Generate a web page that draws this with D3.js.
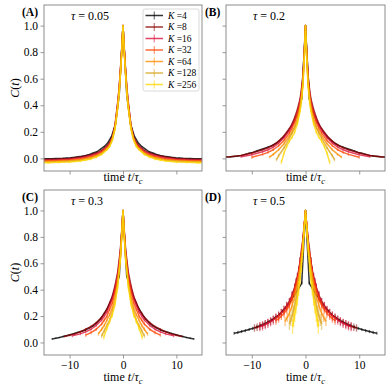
<!DOCTYPE html>
<html>
<head>
<meta charset="utf-8">
<script src="https://cdn.jsdelivr.net/npm/d3@7"></script>
<style>
  body { margin: 0; background: #fff; }
  svg { display: block; }
  svg text { font-family: "Liberation Serif", "Times New Roman", Times, serif; fill: #000; }
</style>
</head>
<body>
<svg width="390" height="390"></svg>
<script>
var Ks = [4, 8, 16, 32, 64, 128, 256];
var colors = ["#000000", "#8b0000", "#dc143c", "#ff4500", "#ff8c00", "#daa520", "#ffd700"];
var taus = ["0.05", "0.2", "0.3", "0.5"];
var panelNames = ["(A)", "(B)", "(C)", "(D)"];
var xTicks = [-10, 0, 10];
var yTicks = [0, 0.2, 0.4, 0.6, 0.8, 1.0];

// K=4 is sampled coarser than the others
var tBlack = [0, 0.7, 1.4, 2.1, 2.8, 3.5, 4.2, 4.9, 5.6, 6.3, 7, 7.7, 8.4, 9.1, 9.8, 10.5, 11.2, 11.9, 12.6, 13.3, 14, 14.7, 15.4];
var blackA = [1, 0.48, 0.26, 0.17, 0.12, 0.09, 0.07, 0.05, 0.04, 0.03, 0.022, 0.016, 0.012, 0.008, 0.005, 0.003, 0.001, 0, -0.001, -0.002, -0.003, -0.003, -0.003];
var blackB = [1, 0.45, 0.35, 0.28, 0.23, 0.19, 0.155, 0.13, 0.11, 0.095, 0.085, 0.075, 0.065, 0.055, 0.045, 0.038, 0.03, 0.022, 0.018, 0.015, 0.012, 0.01, 0.008];
var blackC = [1, 0.5, 0.42, 0.33, 0.27, 0.22, 0.18, 0.15, 0.125, 0.11, 0.095, 0.085, 0.077, 0.068, 0.06, 0.052, 0.045, 0.038, 0.032, 0.026];
var blackD = [1, 0.45, 0.4, 0.36, 0.31, 0.27, 0.24, 0.21, 0.19, 0.17, 0.155, 0.14, 0.128, 0.117, 0.107, 0.098, 0.09, 0.083, 0.076, 0.07];

// K = 8 ... 256, half curves [t, C(t)] for t >= 0 (curves are symmetric)
var curvesA = [
  [[0,1],[0.25,0.82],[0.5,0.66],[0.75,0.52],[1,0.42],[1.5,0.25],[2,0.16],[2.5,0.12],[3,0.095],[4,0.06],[5,0.04],[6,0.028],[7,0.018],[8,0.01],[10,0],[12,-0.005],[14,-0.008],[16,-0.01]],
  [[0,1],[0.25,0.81],[0.5,0.65],[0.75,0.51],[1,0.41],[1.5,0.24],[2,0.155],[2.5,0.11],[3,0.088],[4,0.052],[5,0.033],[6,0.02],[7,0.01],[8,0.003],[10,-0.006],[12,-0.01],[14,-0.012],[16,-0.013]],
  [[0,1],[0.25,0.8],[0.5,0.64],[0.75,0.5],[1,0.4],[1.5,0.235],[2,0.15],[2.5,0.105],[3,0.08],[4,0.045],[5,0.025],[6,0.012],[7,0.003],[8,-0.004],[10,-0.012],[12,-0.016],[14,-0.018],[16,-0.018]],
  [[0,1],[0.25,0.8],[0.5,0.63],[0.75,0.49],[1,0.39],[1.5,0.23],[2,0.145],[2.5,0.1],[3,0.075],[4,0.04],[5,0.02],[6,0.006],[7,-0.003],[8,-0.01],[10,-0.018],[12,-0.022],[14,-0.024],[16,-0.024]],
  [[0,1],[0.25,0.79],[0.5,0.62],[0.75,0.48],[1,0.38],[1.5,0.225],[2,0.14],[2.5,0.095],[3,0.07],[4,0.035],[5,0.014],[6,0],[7,-0.008],[8,-0.015],[10,-0.022],[12,-0.026],[14,-0.028],[16,-0.028]],
  [[0,1],[0.25,0.79],[0.5,0.62],[0.75,0.48],[1,0.38],[1.5,0.22],[2,0.135],[2.5,0.09],[3,0.065],[4,0.03],[5,0.01],[6,-0.004],[7,-0.012],[8,-0.02],[10,-0.027],[12,-0.03],[14,-0.032],[16,-0.032]]
];
var curvesB = [
  [[0,1],[0.25,0.78],[0.5,0.62],[0.75,0.52],[1,0.45],[1.5,0.37],[2,0.31],[2.5,0.26],[3,0.225],[4,0.17],[5,0.13],[6,0.1],[7,0.08],[8,0.065],[10,0.04],[12,0.022],[14,0.012],[16,0.006]],
  [[0,1],[0.25,0.77],[0.5,0.6],[0.75,0.5],[1,0.43],[1.5,0.35],[2,0.29],[2.5,0.245],[3,0.21],[4,0.155],[5,0.115],[6,0.085],[7,0.065],[8,0.05],[10,0.028],[12,0.012]],
  [[0,1],[0.25,0.76],[0.5,0.58],[0.75,0.48],[1,0.41],[1.5,0.33],[2,0.27],[2.5,0.225],[3,0.19],[4,0.135],[5,0.095],[6,0.065],[7,0.045],[8,0.03],[10,0.008]],
  [[0,1],[0.25,0.75],[0.5,0.56],[0.75,0.46],[1,0.39],[1.5,0.3],[2,0.24],[2.5,0.2],[3,0.17],[4,0.11],[5,0.065],[6,0.03],[6.7,0.01]],
  [[0,1],[0.25,0.74],[0.5,0.55],[0.75,0.45],[1,0.37],[1.5,0.28],[2,0.23],[2.5,0.19],[3,0.15],[4,0.08],[5,0.02],[5.4,-0.01]],
  [[0,1],[0.25,0.73],[0.5,0.54],[0.75,0.43],[1,0.36],[1.5,0.26],[2,0.2],[2.5,0.16],[3,0.13],[3.5,0.09],[4,0.04],[4.5,-0.03]]
];
var curvesC = [
  [[0,1],[0.25,0.84],[0.5,0.7],[1,0.53],[1.5,0.43],[2,0.35],[2.5,0.3],[3,0.25],[3.5,0.22],[4,0.19],[5,0.15],[6,0.12],[7,0.1],[8,0.08],[9,0.065],[10,0.055],[11,0.045]],
  [[0,1],[0.25,0.83],[0.5,0.68],[1,0.51],[1.5,0.41],[2,0.33],[2.5,0.28],[3,0.23],[3.5,0.2],[4,0.17],[5,0.13],[6,0.1],[7,0.08],[8,0.065],[9.5,0.05]],
  [[0,1],[0.25,0.82],[0.5,0.66],[1,0.49],[1.5,0.38],[2,0.3],[2.5,0.25],[3,0.2],[3.5,0.17],[4,0.14],[5,0.1],[6,0.075],[7,0.055]],
  [[0,1],[0.25,0.81],[0.5,0.64],[1,0.46],[1.5,0.34],[2,0.26],[2.5,0.21],[3,0.17],[3.5,0.13],[4,0.1],[4.6,0.065]],
  [[0,1],[0.25,0.8],[0.5,0.63],[1,0.44],[1.5,0.31],[2,0.23],[2.5,0.17],[3,0.13],[3.5,0.09],[4,0.05]],
  [[0,1],[0.25,0.8],[0.5,0.62],[1,0.42],[1.5,0.29],[2,0.21],[2.5,0.16],[3,0.11],[3.6,0.04]]
];
var curvesD = [
  [[0,1],[0.25,0.88],[0.5,0.78],[0.75,0.69],[1,0.62],[1.25,0.55],[1.5,0.5],[1.75,0.46],[2,0.42],[2.5,0.36],[3,0.31],[3.5,0.28],[4,0.25],[4.5,0.225],[5,0.205],[5.5,0.19],[6,0.175],[6.5,0.16],[7,0.15],[7.5,0.14],[8,0.13],[8.5,0.122],[9,0.115],[9.5,0.11]],
  [[0,1],[0.25,0.88],[0.5,0.77],[0.75,0.68],[1,0.61],[1.25,0.54],[1.5,0.49],[1.75,0.45],[2,0.41],[2.5,0.35],[3,0.3],[3.5,0.27],[4,0.24],[4.5,0.22],[5,0.2],[5.5,0.185],[6,0.17],[6.5,0.157],[7,0.145],[7.5,0.135],[8,0.125],[8.5,0.12]],
  [[0,1],[0.25,0.87],[0.5,0.76],[0.75,0.67],[1,0.59],[1.25,0.52],[1.5,0.47],[1.75,0.43],[2,0.39],[2.5,0.33],[3,0.28],[3.5,0.25],[4,0.22],[4.5,0.2],[5,0.18],[5.5,0.165]],
  [[0,1],[0.25,0.86],[0.5,0.74],[0.75,0.64],[1,0.56],[1.25,0.5],[1.5,0.44],[1.75,0.39],[2,0.35],[2.5,0.28],[3,0.22],[3.4,0.19],[3.8,0.16]],
  [[0,1],[0.25,0.85],[0.5,0.72],[0.75,0.61],[1,0.52],[1.25,0.45],[1.5,0.38],[1.75,0.33],[2,0.28],[2.25,0.24],[2.5,0.2],[2.75,0.17],[3,0.14]],
  [[0,1],[0.25,0.85],[0.5,0.71],[0.75,0.59],[1,0.49],[1.25,0.41],[1.5,0.33],[1.75,0.27],[2,0.21],[2.2,0.17],[2.4,0.12]]
];
// error bar half-heights, per K
var errA = [0.003, 0.004, 0.005, 0.006, 0.007, 0.008, 0.01];
var errB = [0.004, 0.006, 0.008, 0.01, 0.01, 0.012, 0.014];
var errC = [0.005, 0.008, 0.01, 0.012, 0.014, 0.016, 0.02];
var errD = [0.012, 0.028, 0.035, 0.03, 0.035, 0.045, 0.055];

var blacks = [blackA, blackB, blackC, blackD];
var curves = [curvesA, curvesB, curvesC, curvesD];
var errs = [errA, errB, errC, errD];

var serif = "'Liberation Serif', 'Times New Roman', Times, serif";
var svg = d3.select("svg");
var boxes = [
  {x0: 44, x1: 202, y0: 5, y1: 171},
  {x0: 226, x1: 385, y0: 5, y1: 171},
  {x0: 44, x1: 202, y0: 190, y1: 355},
  {x0: 226, x1: 385, y0: 190, y1: 355}
];
var frameColor = "#808080";

function mirror(half) {
  var left = half.slice(1).map(function(p) { return [-p[0], p[1]]; }).reverse();
  return left.concat(half);
}

boxes.forEach(function(b, pi) {
  var x = d3.scaleLinear().domain([-14.8, 14.8]).range([b.x0, b.x1]);
  var y = d3.scaleLinear().domain([-0.095, 1.155]).range([b.y1, b.y0]);
  var g = svg.append("g");

  svg.append("clipPath").attr("id", "clip" + pi)
    .append("rect").attr("x", b.x0).attr("y", b.y0)
    .attr("width", b.x1 - b.x0).attr("height", b.y1 - b.y0);

  var plot = g.append("g").attr("clip-path", "url(#clip" + pi + ")");

  var series = [];
  series.push(tBlack.slice(0, blacks[pi].length).map(function(t, i) { return [t, blacks[pi][i]]; }));
  curves[pi].forEach(function(c) { series.push(c); });

  var line = d3.line().x(function(d) { return x(d[0]); }).y(function(d) { return y(d[1]); });

  series.forEach(function(half, k) {
    var pts = mirror(half);
    var e = errs[pi][k];
    var s = plot.append("g");
    s.selectAll("line").data(pts.filter(function(p) { return p[0] !== 0; }))
      .enter().append("line")
      .attr("x1", function(d) { return x(d[0]); })
      .attr("x2", function(d) { return x(d[0]); })
      .attr("y1", function(d) { return y(d[1] - e); })
      .attr("y2", function(d) { return y(d[1] + e); })
      .attr("stroke", colors[k])
      .attr("stroke-opacity", 0.5)
      .attr("stroke-width", 1.3);
    s.append("path").datum(pts)
      .attr("d", line)
      .attr("fill", "none")
      .attr("stroke", colors[k])
      .attr("stroke-opacity", 0.8)
      .attr("stroke-width", 1.5)
      .attr("stroke-linejoin", "round");
  });

  // axes
  var ya = d3.axisLeft(y).tickValues(yTicks).tickSize(3.5).tickPadding(2.5)
    .tickFormat(pi % 2 === 0 ? d3.format(".1f") : "");
  var yg = g.append("g").attr("transform", "translate(" + b.x0 + ",0)").call(ya);
  var xa = d3.axisBottom(x).tickValues(xTicks).tickSize(3.5).tickPadding(2)
    .tickFormat(pi >= 2 ? d3.format("d") : "");
  var xg = g.append("g").attr("transform", "translate(0," + b.y1 + ")").call(xa);
  [yg, xg].forEach(function(a) {
    a.attr("font-family", serif);
    a.select(".domain").remove();
    a.selectAll(".tick line").attr("stroke", frameColor).attr("stroke-width", 0.8);
    a.selectAll(".tick text").style("font-family", serif).attr("font-size", 11.5).attr("fill", "#000");
  });

  g.append("rect").attr("x", b.x0).attr("y", b.y0)
    .attr("width", b.x1 - b.x0).attr("height", b.y1 - b.y0)
    .attr("fill", "none").attr("stroke", frameColor).attr("stroke-width", 0.9);

  // x label
  var xl = g.append("text").attr("x", (b.x0 + b.x1) / 2).attr("y", b.y1 + (pi >= 2 ? 26 : 10))
    .attr("text-anchor", "middle").attr("font-size", 12);
  xl.append("tspan").text("time ");
  xl.append("tspan").attr("font-style", "italic").text("t");
  xl.append("tspan").text("/");
  xl.append("tspan").attr("font-style", "italic").text("τ");
  xl.append("tspan").attr("font-style", "italic").attr("font-size", 8.5).attr("dy", 2.5).text("c");

  // y label
  if (pi % 2 === 0) {
    var cy = (b.y0 + b.y1) / 2;
    var yl = g.append("text").attr("transform", "translate(19," + cy + ") rotate(-90)")
      .attr("text-anchor", "middle").attr("font-size", 12);
    yl.append("tspan").attr("font-style", "italic").text("C");
    yl.append("tspan").text("(");
    yl.append("tspan").attr("font-style", "italic").text("t");
    yl.append("tspan").text(")");
  }

  // panel letter
  g.append("text").attr("x", b.x0 - (pi % 2 === 0 ? 22 : 21)).attr("y", b.y0 + 11)
    .attr("font-size", 11.5).attr("font-weight", "bold").text(panelNames[pi]);

  // tau label
  var tl = g.append("text").attr("x", b.x0 + 27).attr("y", b.y0 + 15).attr("font-size", 12);
  tl.append("tspan").attr("font-style", "italic").text("τ");
  tl.append("tspan").text(" = " + taus[pi]);
});

// legend in panel A
var lg = svg.append("g");
lg.append("rect").attr("x", 143).attr("y", 9).attr("width", 56).attr("height", 82).attr("rx", 2)
  .attr("fill", "#fff").attr("fill-opacity", 0.8).attr("stroke", "#d0d0d0").attr("stroke-width", 0.8);
Ks.forEach(function(k, i) {
  var yy = 15.5 + i * 11.5;
  lg.append("line").attr("x1", 145.5).attr("x2", 163).attr("y1", yy).attr("y2", yy)
    .attr("stroke", colors[i]).attr("stroke-opacity", 0.8).attr("stroke-width", 1.5);
  lg.append("line").attr("x1", 154.3).attr("x2", 154.3).attr("y1", yy - 4).attr("y2", yy + 4)
    .attr("stroke", colors[i]).attr("stroke-opacity", 0.5).attr("stroke-width", 1.3);
  var t = lg.append("text").attr("x", 168).attr("y", yy + 3.3).attr("font-size", 9.5);
  t.append("tspan").attr("font-style", "italic").text("K");
  t.append("tspan").text(" =" + k);
});
</script>
</body>
</html>
